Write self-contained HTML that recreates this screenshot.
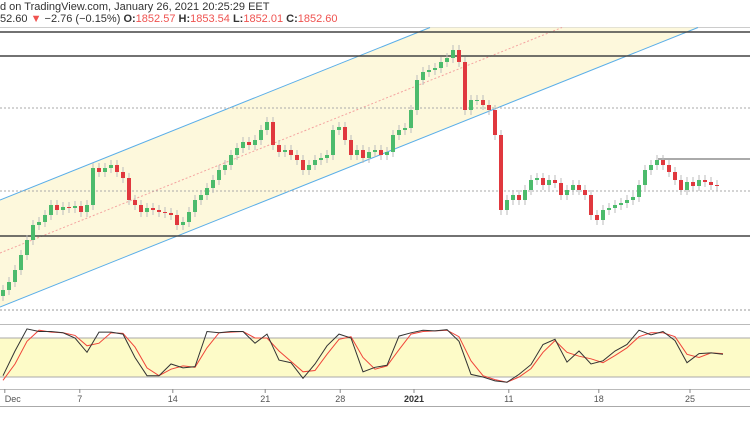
<!DOCTYPE html>
<html><head><meta charset="utf-8"><style>
html,body{margin:0;padding:0;background:#fff;width:750px;height:430px;overflow:hidden}
body{font-family:"Liberation Sans",sans-serif}
#hdr1{position:absolute;left:0;top:1px;font-size:11px;color:#333;white-space:nowrap}
#hdr2{position:absolute;left:0;top:13px;font-size:11px;color:#333;white-space:nowrap}
.r{color:#ef5350}.b{font-weight:bold}
svg{position:absolute;left:0;top:0}
</style></head><body>
<div id="hdr1">d on TradingView.com, January 26, 2021 20:25:29 EET</div>
<div id="hdr2">52.60 <span class="r">▼</span> −2.76 (−0.15%) <span class="b">O:</span><span class="r">1852.57</span> <span class="b">H:</span><span class="r">1853.54</span> <span class="b">L:</span><span class="r">1852.01</span> <span class="b">C:</span><span class="r">1852.60</span></div>
<svg id="chart" width="750" height="430">
  <line x1="0" y1="27.5" x2="750" y2="27.5" stroke="#ccc"/>
  <polygon points="0,200 430,27.5 698,27.5 0,307" fill="#fdf8dc"/>
  <line x1="0" y1="253" x2="562" y2="27.5" stroke="#f4a3a0" stroke-dasharray="2,2"/>
  <line x1="0" y1="200" x2="430" y2="27.5" stroke="#5aaee8"/>
  <line x1="0" y1="307" x2="698" y2="27.5" stroke="#5aaee8"/>
  <line x1="0" y1="32" x2="750" y2="32" stroke="#444" stroke-width="1.5"/>
  <line x1="0" y1="56" x2="750" y2="56" stroke="#444" stroke-width="1.5"/>
  <line x1="0" y1="236" x2="750" y2="236" stroke="#444" stroke-width="1.5"/>
  <line x1="0" y1="108" x2="750" y2="108" stroke="#aaa" stroke-dasharray="2,2"/>
  <line x1="0" y1="191" x2="750" y2="191" stroke="#aaa" stroke-dasharray="2,2"/>
  <line x1="0" y1="310" x2="750" y2="310" stroke="#999" stroke-dasharray="2,2"/>
  <line x1="658" y1="159" x2="750" y2="159" stroke="#555"/>
  <g id="candles"></g>
  <line x1="0" y1="324.5" x2="750" y2="324.5" stroke="#bbb"/>
  <rect x="0" y="338" width="750" height="39" fill="#fdfbc8"/>
  <line x1="0" y1="338" x2="750" y2="338" stroke="#aaa"/>
  <line x1="0" y1="377" x2="750" y2="377" stroke="#aaa"/>
  <g id="stoch"></g>
  <line x1="0" y1="389.5" x2="750" y2="389.5" stroke="#bbb"/>
  <line x1="0" y1="406.5" x2="750" y2="406.5" stroke="#aaa"/>
  <g id="xaxis" font-size="9" fill="#555" font-family="Liberation Sans, sans-serif"></g>
</svg>
<script>
const closes=[1710,1718,1730,1745,1760,1775,1778,1785,1795,1790,1793,1792,1794,1788,1795,1832,1828,1832,1835,1828,1822,1800,1795,1788,1792,1790,1788,1787,1785,1775,1778,1788,1800,1805,1812,1820,1830,1835,1845,1852,1858,1855,1860,1870,1878,1855,1848,1850,1845,1840,1830,1835,1840,1842,1845,1870,1873,1860,1845,1850,1842,1848,1850,1845,1848,1865,1870,1872,1890,1920,1928,1930,1932,1938,1942,1950,1938,1890,1900,1900,1895,1890,1865,1790,1800,1805,1800,1810,1820,1822,1815,1820,1817,1805,1810,1815,1810,1805,1785,1780,1790,1792,1795,1797,1800,1803,1815,1830,1835,1840,1835,1828,1820,1810,1818,1814,1820,1818,1815,1814];
const stochK=[22,60,94,90,90,88,80,58,89,89,86,50,22,22,40,34,36,90,88,90,90,72,86,46,42,18,40,68,86,80,28,35,38,83,88,92,91,93,75,24,20,14,12,24,39,70,78,43,60,40,45,60,70,92,85,90,76,42,56,57,55];
const stochD=[15,40,75,92,89,88,84,68,72,88,87,66,34,22,32,37,35,65,88,89,90,80,80,60,44,28,30,55,78,82,50,32,37,62,86,90,91,92,82,45,22,16,12,20,33,58,76,58,52,48,42,53,65,82,88,88,82,55,50,57,56];
const tickLabels=["Dec","7","14","21","28","2021","11","18","25"];
const tickIdx=[0.3,12.8,28.3,43.7,56.2,68.5,84.3,99.3,114.5];
const NS="http://www.w3.org/2000/svg";
const xOf=i=>3+6*i;
const yOf=p=>2000-p;
const ySt=v=>338-(v-80)*0.65;
const cg=document.getElementById('candles');
for(let i=0;i<closes.length;i++){
  const o=i?closes[i-1]:closes[0]-6, c=closes[i];
  const up=c>=o, col=up?'#4cbb6c':'#e0383e';
  const top=Math.min(yOf(o),yOf(c)), bot=Math.max(yOf(o),yOf(c));
  const w=document.createElementNS(NS,'line');
  
  
  w.setAttribute('x1',xOf(i));w.setAttribute('x2',xOf(i));
  w.setAttribute('y1',top-5);w.setAttribute('y2',bot+5);
  w.setAttribute('stroke','#bbb');cg.appendChild(w);
  const r=document.createElementNS(NS,'rect');
  
  
  r.setAttribute('x',xOf(i)-2);r.setAttribute('width',4);
  r.setAttribute('y',top);r.setAttribute('height',Math.max(1,bot-top));
  r.setAttribute('fill',col);cg.appendChild(r);
}
const sg=document.getElementById('stoch');
function line(arr,color,name){
  const p=document.createElementNS(NS,'polyline');
  
  
  p.setAttribute('points',arr.map((v,j)=>(xOf(2*j)).toFixed(1)+','+ySt(v).toFixed(1)).join(' '));
  p.setAttribute('fill','none');p.setAttribute('stroke',color);p.setAttribute('stroke-width','1');
  sg.appendChild(p);
}
line(stochD,'#f0453a','stoch-d-line');
line(stochK,'#333','stoch-k-line');
const xg=document.getElementById('xaxis');
tickLabels.forEach((t,k)=>{
  const x=xOf(tickIdx[k]);
  const tk=document.createElementNS(NS,'line');
  
  
  tk.setAttribute('x1',x);tk.setAttribute('x2',x);tk.setAttribute('y1',389);tk.setAttribute('y2',393);
  tk.setAttribute('stroke','#888');xg.appendChild(tk);
  const tx=document.createElementNS(NS,'text');
  
  
  tx.setAttribute('x',x);tx.setAttribute('y',402);
  tx.setAttribute('text-anchor',k===0?'start':'middle');
  if(t==='2021'){tx.setAttribute('font-weight','bold');tx.setAttribute('fill','#333');}
  tx.textContent=t;xg.appendChild(tx);
});
</script>
</body></html>
